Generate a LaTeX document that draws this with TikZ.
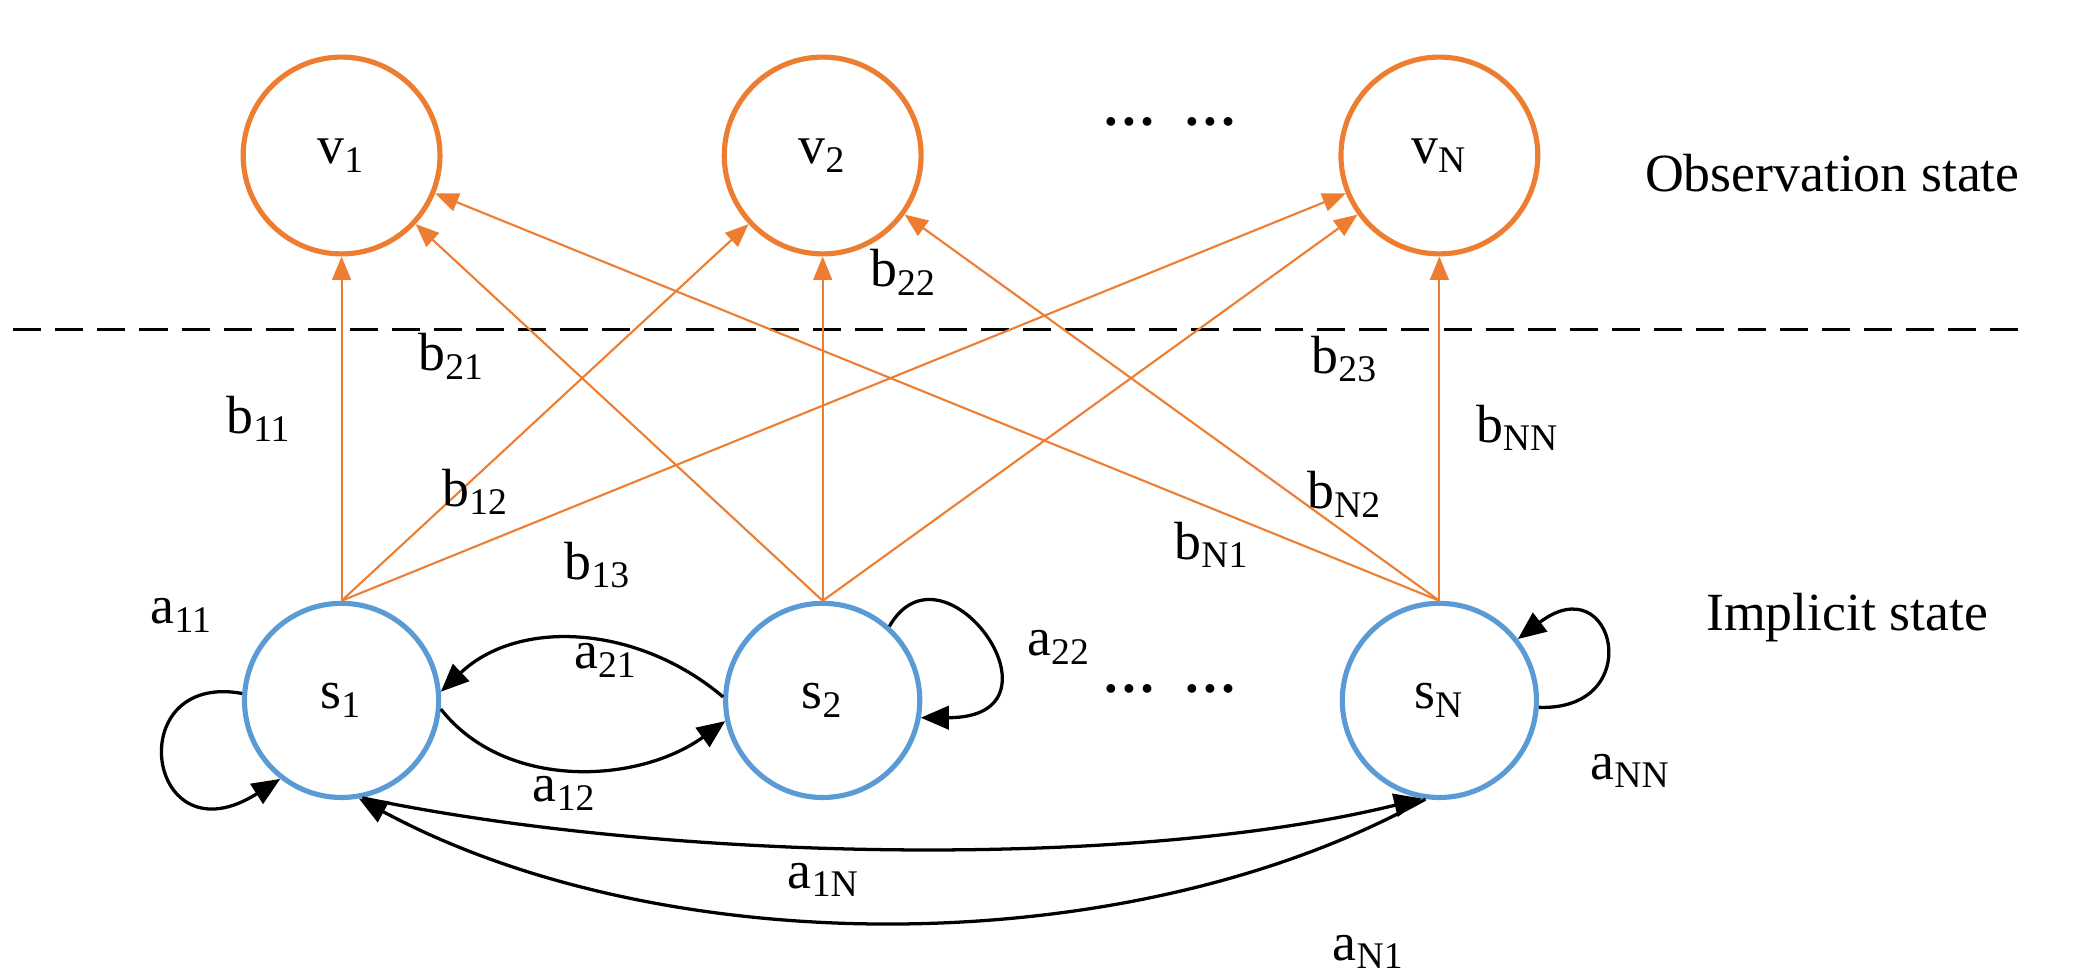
\documentclass[tikz,border=0pt]{standalone}
\usepackage{fontspec}
\setmainfont{Liberation Serif}
\usetikzlibrary{arrows.meta}
\definecolor{obs}{RGB}{237,125,49}
\definecolor{hid}{RGB}{91,155,213}
\begin{document}
\begin{tikzpicture}[x=0.01cm,y=-0.01cm,
  font=\fontsize{11.5}{13}\selectfont,
  vst/.style={circle,draw=obs,line width=1.1pt,minimum size=1.48cm,inner sep=0pt},
  sst/.style={circle,draw=hid,line width=1.1pt,minimum size=1.46cm,inner sep=0pt},
  em/.style={draw=obs,line width=0.45pt,-{Triangle[length=5pt,width=4pt]}},
  tr/.style={draw=black,line width=0.7pt,-{Triangle[length=6pt,width=5pt]}},
  lb/.style={inner sep=0pt}]
\useasboundingbox (0,0) rectangle (1568,731);
\node[vst] (v1) at (257,117) {v\textsubscript{1}};
\node[vst] (v2) at (619,117) {v\textsubscript{2}};
\node[vst] (vN) at (1083,117) {v\textsubscript{N}};
\node[sst] (s1) at (257,527) {s\textsubscript{1}};
\node[sst] (s2) at (619,527) {s\textsubscript{2}};
\node[sst] (sN) at (1083,527) {s\textsubscript{N}};
\node[lb] (d1) at (880,92) {\textbf{\ldots\ \ \ldots}};
\node[lb] (d2) at (880,518) {\textbf{\ldots\ \ \ldots}};
\node[lb,anchor=west] (os) at (1237,130) {Observation state};
\node[lb,anchor=west] (is) at (1283,465) {Implicit state};
\coordinate (dl) at (10,248); \coordinate (dr) at (1522,248);
\draw[line width=0.6pt,dash pattern=on 6pt off 3pt] (dl) -- (dr);
\foreach \s in {s1,s2,sN}{\foreach \v in {v1,v2,vN}{
  \draw[em] (\s.north) -- (\v);}}
\node[lb] (b11) at (195,315) {b\textsubscript{11}};
\node[lb] (b21) at (340,268) {b\textsubscript{21}};
\node[lb] (b12) at (358,370) {b\textsubscript{12}};
\node[lb] (b13) at (450,425) {b\textsubscript{13}};
\node[lb] (b22) at (680,205) {b\textsubscript{22}};
\node[lb] (b23) at (1012,270) {b\textsubscript{23}};
\node[lb] (bNN) at (1142,322) {b\textsubscript{NN}};
\node[lb] (bN2) at (1012,372) {b\textsubscript{N2}};
\node[lb] (bN1) at (912,410) {b\textsubscript{N1}};
% transitions
\draw[tr] (s2.178) .. controls (480,470) and (390,465) .. (s1.5);
\draw[tr] (s1.355) .. controls (380,595) and (480,590) .. (s2.192);
\draw[tr] (s1.176) .. controls (90,505) and (110,650) .. (s1.232);
\draw[tr] (s2.48) .. controls (710,400) and (810,540) .. (s2.350);
\draw[tr] (sN.356) .. controls (1240,535) and (1215,425) .. (sN.38);
\draw[tr] (s1.282) .. controls (500,648) and (850,655) .. (sN.260);
\draw[tr] (sN.262) .. controls (850,725) and (500,725) .. (s1.280);
\node[lb] (a11) at (137,463) {a\textsubscript{11}};
\node[lb] (a21) at (456,497) {a\textsubscript{21}};
\node[lb] (a12) at (425,597) {a\textsubscript{12}};
\node[lb] (a22) at (797,487) {a\textsubscript{22}};
\node[lb] (aNN) at (1227,580) {a\textsubscript{NN}};
\node[lb] (a1N) at (620,662) {a\textsubscript{1N}};
\node[lb] (aN1) at (1030,716) {a\textsubscript{N1}};
\end{tikzpicture}
\end{document}
